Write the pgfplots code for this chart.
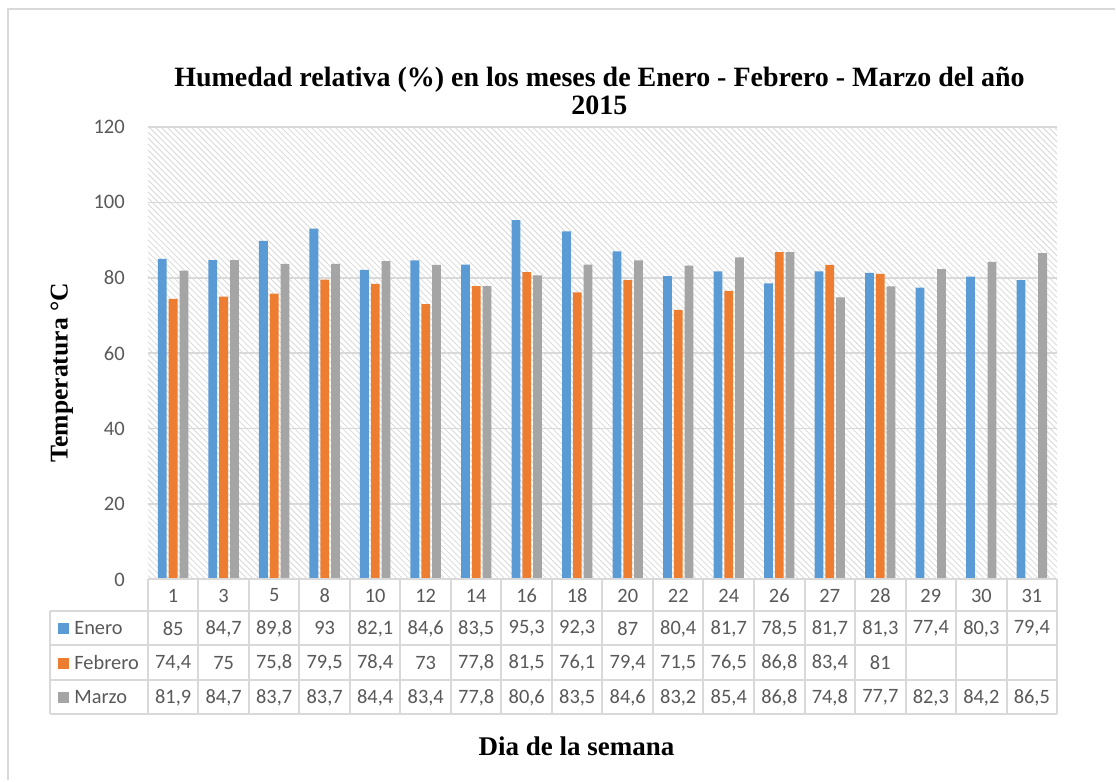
\documentclass[border=0pt]{standalone}
\usepackage{pgfplots}
\pgfplotsset{compat=1.18}
\usetikzlibrary{patterns}
\usepackage{fontspec}
\setmainfont{Carlito}
\newfontfamily\serifb{Liberation Serif}
\definecolor{cEne}{HTML}{5B9BD5}
\definecolor{cFeb}{HTML}{ED7D31}
\definecolor{cMar}{HTML}{A5A5A5}
\definecolor{txt}{HTML}{595959}
\definecolor{grd}{HTML}{D9D9D9}
\begin{document}
\begin{tikzpicture}
\begin{scope}[x=0.5pt,y=-0.5pt]
\fill[white] (0,0) rectangle (1116,781);
\draw[grd,line width=1pt] (8,781) -- (8,9) -- (1116,9);
\end{scope}
\begin{axis}[
  at={(74pt,-290pt)}, anchor=south west,
  scale only axis, width=455pt, height=226.5pt,
  xmin=-0.5, xmax=17.5, ymin=0, ymax=120,
  ytick={0,20,...,120}, xtick=\empty,
  ymajorgrids, grid style={grd, line width=0.8pt},
  axis line style={draw=none}, major tick length=0pt,
  yticklabel style={font=\fontsize{10.3}{11}\selectfont, text=txt, xshift=-8pt},
  /pgf/number format/assume math mode=true,
  axis background/.style={pattern=north west lines, pattern color=grd},
  ybar=1pt, bar width=4.4pt,
  clip=false,
]
\addplot[fill=cEne, draw=none] coordinates {(0,85) (1,84.7) (2,89.8) (3,93) (4,82.1) (5,84.6) (6,83.5) (7,95.3) (8,92.3) (9,87) (10,80.4) (11,81.7) (12,78.5) (13,81.7) (14,81.3) (15,77.4) (16,80.3) (17,79.4)};
\addplot[fill=cFeb, draw=none] coordinates {(0,74.4) (1,75) (2,75.8) (3,79.5) (4,78.4) (5,73) (6,77.8) (7,81.5) (8,76.1) (9,79.4) (10,71.5) (11,76.5) (12,86.8) (13,83.4) (14,81) (15,0) (16,0) (17,0)};
\addplot[fill=cMar, draw=none] coordinates {(0,81.9) (1,84.7) (2,83.7) (3,83.7) (4,84.4) (5,83.4) (6,77.8) (7,80.6) (8,83.5) (9,84.6) (10,83.2) (11,85.4) (12,86.8) (13,74.8) (14,77.7) (15,82.3) (16,84.2) (17,86.5)};
\end{axis}
\begin{scope}[x=0.5pt,y=-0.5pt]
\begin{scope}[grd, line width=1pt]
\draw (148,580) -- (1058,580);
\draw (50,612) -- (1058,612);
\draw (50,646) -- (1058,646);
\draw (50,681) -- (1058,681);
\draw (50,715) -- (1058,715);
\draw (50,612) -- (50,715);
\foreach \k in {0,...,18} \draw ({148+\k*50.556},580) -- ({148+\k*50.556},715);
\end{scope}
\begin{scope}[every node/.style={font=\fontsize{10.2}{11}\selectfont, text=txt}]
\foreach \d [count=\i from 0] in {1,3,5,8,10,12,14,16,18,20,22,24,26,27,28,29,30,31}
  \node at ({173.3+\i*50.556},596) {\d};
\foreach \d [count=\i from 0] in {85,{84,7},{89,8},93,{82,1},{84,6},{83,5},{95,3},{92,3},87,{80,4},{81,7},{78,5},{81,7},{81,3},{77,4},{80,3},{79,4}}
  \node at ({173.3+\i*50.556},629) {\d};
\foreach \d [count=\i from 0] in {{74,4},75,{75,8},{79,5},{78,4},73,{77,8},{81,5},{76,1},{79,4},{71,5},{76,5},{86,8},{83,4},81,{},{},{}}
  \node at ({173.3+\i*50.556},663.5) {\d};
\foreach \d [count=\i from 0] in {{81,9},{84,7},{83,7},{83,7},{84,4},{83,4},{77,8},{80,6},{83,5},{84,6},{83,2},{85,4},{86,8},{74,8},{77,7},{82,3},{84,2},{86,5}}
  \node at ({173.3+\i*50.556},698) {\d};
\fill[cEne] (58,624) rectangle (69,635);
\fill[cFeb] (58,658.5) rectangle (69,669.5);
\fill[cMar] (58,693) rectangle (69,704);
\node[anchor=west, inner sep=0pt] at (74,629) {Enero};
\node[anchor=west, inner sep=0pt] at (74,663.5) {Febrero};
\node[anchor=west, inner sep=0pt] at (74,698) {Marzo};
\end{scope}
\node[font=\serifb\bfseries\fontsize{14}{14}\selectfont, align=center] at (600,91) {Humedad relativa (\%) en los meses de Enero - Febrero - Marzo del año\\2015};
\node[font=\serifb\bfseries\fontsize{12.8}{13}\selectfont, rotate=90] at (62,373) {Temperatura °C};
\node[font=\serifb\bfseries\fontsize{13.5}{14}\selectfont] at (577,747) {Dia de la semana};
\end{scope}
\end{tikzpicture}
\end{document}
